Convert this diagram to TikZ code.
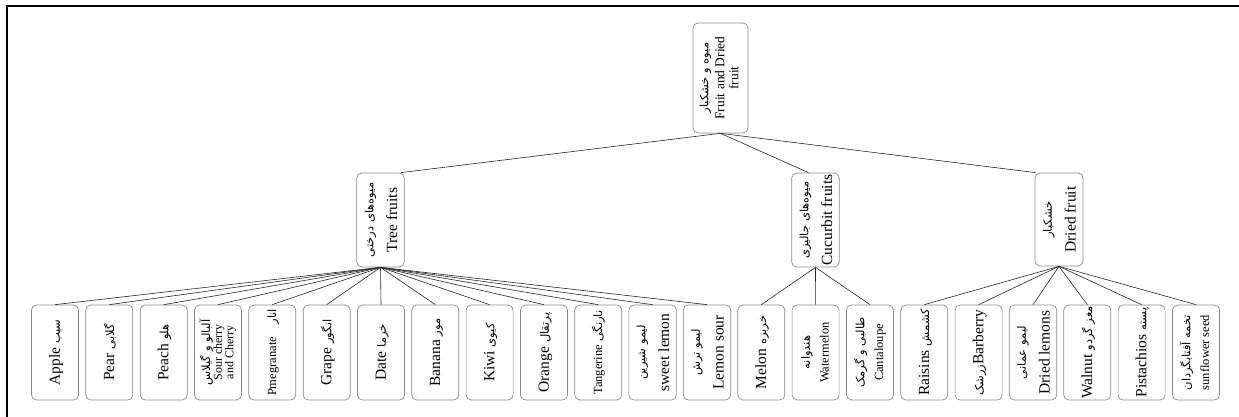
\documentclass[tikz,border=0pt]{standalone}
\usepackage{fontspec}
\setmainfont{Liberation Serif}
\newfontfamily\fa[Script=Arabic]{DejaVu Sans}
\TeXXeTstate=1
\newcommand\pe[1]{{\fa\fontsize{11.5}{13}\selectfont\beginR #1\endR}}
\newcommand\vtext[1]{\rotatebox{90}{\renewcommand\arraystretch{1.25}\begin{tabular}{@{}c@{}}#1\end{tabular}}}
\definecolor{boxgray}{HTML}{8A8A8A}
\begin{document}
\begin{tikzpicture}[x=1pt,y=-1pt,
  box/.style={draw=boxgray, rounded corners=5pt, line width=0.7pt,
    minimum width=47pt, minimum height=95pt, inner sep=0pt,
    font=\fontsize{15.5}{19}\selectfont},
  sm/.style={font=\fontsize{12.5}{15}\selectfont},
  conn/.style={draw=black!85, line width=0.6pt},
  frame/.style={draw=black, line width=1.5pt}]
\useasboundingbox (0,0) rectangle (1239,417);
\coordinate (fa) at (7,417);
\coordinate (fb) at (7,6);
\coordinate (fc) at (1239,6);
\draw[frame] (fa) -- (fb) -- (fc);

% root and middle level
\node[box, minimum width=55pt, minimum height=110pt, font=\fontsize{13.5}{14}\selectfont] (root) at (720.5,78)
  {\rotatebox{90}{\begin{tabular}{@{}c@{}}\pe{میوه و خشکبار}\\[2pt]Fruit and Dried\\fruit\end{tabular}}};
\node[box, minimum height=94pt] (tree) at (380.5,220) {\vtext{\pe{میوه‌های درختی}\\Tree fruits}};
\node[box, minimum width=45pt, minimum height=94pt] (cuc) at (815.5,220) {\vtext{\pe{میوه‌های جالیزی}\\Cucurbit fruits}};
\node[box, minimum width=48pt, minimum height=93pt] (dry) at (1059,219.5) {\vtext{\pe{خشکبار}\\Dried fruit}};

% leaves
\node[box] (l0) at (55,352.5) {\vtext{Apple \pe{سیب}}};
\node[box] (l1) at (109.3,352.5) {\vtext{Pear \pe{گلابی}}};
\node[box] (l2) at (163.7,352.5) {\vtext{Peach \pe{هلو}}};
\node[box, font=\fontsize{12}{11}\selectfont] (l3) at (218,352.5) {\rotatebox{90}{\begin{tabular}{@{}c@{}}\pe{آلبالو و گیلاس}\\Sour cherry\\and Cherry\end{tabular}}};
\node[box, sm] (l4) at (272.3,352.5) {\vtext{Pmegranate\quad\pe{انار}}};
\node[box] (l5) at (326.7,352.5) {\vtext{Grape \pe{انگور}}};
\node[box] (l6) at (381,352.5) {\vtext{Date \pe{خرما}}};
\node[box] (l7) at (435.3,352.5) {\vtext{Banana \pe{موز}}};
\node[box] (l8) at (489.6,352.5) {\vtext{Kiwi \pe{کیوی}}};
\node[box] (l9) at (544,352.5) {\vtext{Orange \pe{پرتقال}}};
\node[box, sm] (l10) at (598.3,352.5) {\vtext{Tangerine \pe{نارنگی}}};
\node[box] (l11) at (652.6,352.5) {\vtext{\pe{لیمو شیرین}\\sweet lemon}};
\node[box] (l12) at (707,352.5) {\vtext{\pe{لیمو ترش}\\Lemon sour}};
\node[box] (l13) at (761.3,352.5) {\vtext{Melon \pe{خربزه}}};
\node[box, sm] (l14) at (815.6,352.5) {\vtext{\pe{هندوانه}\\Watermelon}};
\node[box, sm] (l15) at (870,352.5) {\vtext{\pe{طالبی و گرمک}\\Cantaloupe}};
\node[box] (l16) at (924.3,352.5) {\vtext{Raisins \pe{کشمش}}};
\node[box] (l17) at (978.6,352.5) {\vtext{\pe{زرشک}Barberry}};
\node[box] (l18) at (1033,352.5) {\vtext{\pe{لیمو عمانی}\\Dried lemons}};
\node[box] (l19) at (1087.3,352.5) {\vtext{Walnut \pe{مغز گردو}}};
\node[box] (l20) at (1141.6,352.5) {\vtext{Pistachios \pe{پسته}}};
\node[box, sm] (l21) at (1196,352.5) {\vtext{\pe{تخمه آفتابگردان}\\sunflower seed}};

% connectors
\draw[conn] (root.south) -- ([xshift=-4pt]tree.north east);
\draw[conn] (root.south) -- ([xshift=-7pt]cuc.north);
\draw[conn] (root.south) -- ([xshift=1pt]dry.north west);
\foreach \i in {0,...,12} {\draw[conn] (tree.south) -- (l\i.north);}
\foreach \i in {13,14,15} {\draw[conn] (cuc.south) -- (l\i.north);}
\foreach \i in {16,...,21} {\draw[conn] (dry.south) -- (l\i.north);}
\end{tikzpicture}
\end{document}
